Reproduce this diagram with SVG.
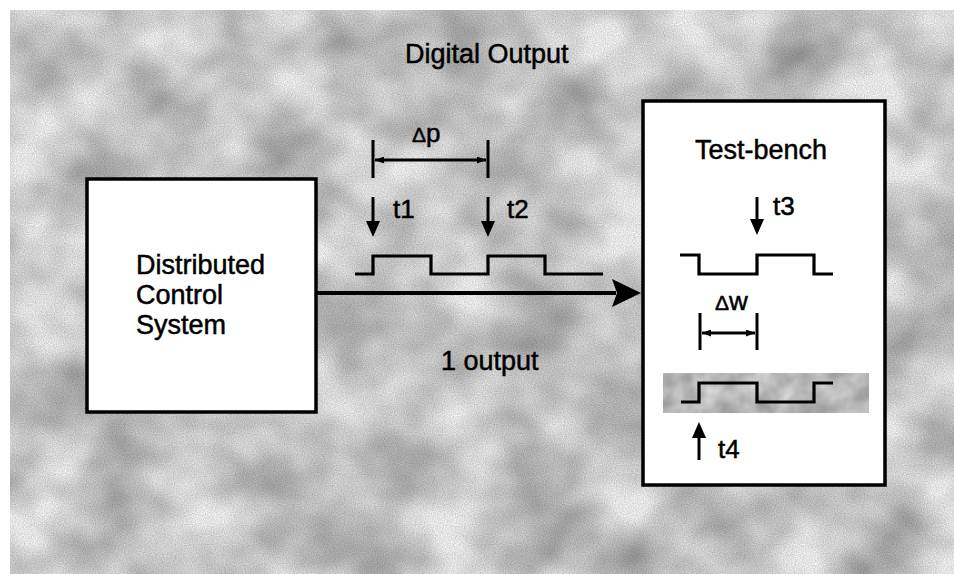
<svg xmlns="http://www.w3.org/2000/svg" width="954" height="574" viewBox="0 0 954 574">
  <defs>
    <style>
      .box { fill: #ffffff; stroke: #000000; stroke-width: 3.5; }
      .wave { fill: none; stroke: #000000; stroke-width: 3.2; stroke-linejoin: miter; }
      .arr { fill: none; stroke: #000000; stroke-width: 3; }
      .dim { fill: none; stroke: #000000; stroke-width: 3; }
      .lbl { font-family: "Liberation Sans", Arial, sans-serif; font-size: 27px; fill: #000000; stroke: #000000; stroke-width: 0.5; }
      .tl { font-family: "Liberation Sans", Arial, sans-serif; font-size: 26px; fill: #000000; stroke: #000000; stroke-width: 0.5; }
      .delta { font-size: 21px; }
    </style>
    <filter id="tex" x="0" y="0" width="100%" height="100%" color-interpolation-filters="sRGB">
      <feTurbulence type="fractalNoise" baseFrequency="0.012 0.014" numOctaves="3" seed="7" result="n"/>
      <feColorMatrix in="n" type="matrix" values="0.6 0 0 0 0.55  0.6 0 0 0 0.55  0.6 0 0 0 0.55  0 0 0 0 1" result="g1"/>
      <feTurbulence type="fractalNoise" baseFrequency="0.9" numOctaves="1" seed="4" result="f"/>
      <feColorMatrix in="f" type="matrix" values="0.35 0 0 0 0.72  0.35 0 0 0 0.72  0.35 0 0 0 0.72  0 0 0 0 1" result="g2"/>
      <feBlend in="g1" in2="g2" mode="multiply"/>
    </filter>
    <filter id="tex2" x="0" y="0" width="100%" height="100%" color-interpolation-filters="sRGB">
      <feTurbulence type="fractalNoise" baseFrequency="0.04" numOctaves="3" seed="2" result="n"/>
      <feColorMatrix in="n" type="matrix" values="0.4 0 0 0 0.52  0.4 0 0 0 0.52  0.4 0 0 0 0.52  0 0 0 0 1"/>
    </filter>
    <marker id="ah" viewBox="0 0 16 14" refX="4" refY="7" markerWidth="16" markerHeight="14" markerUnits="userSpaceOnUse" orient="auto">
      <path d="M0,0 L16,7 L0,14 z" fill="#000000"/>
    </marker>
    <marker id="dh" viewBox="0 0 9 7" refX="9" refY="3.5" markerWidth="9" markerHeight="7" markerUnits="userSpaceOnUse" orient="auto-start-reverse">
      <path d="M0,0 L9,3.5 L0,7 z" fill="#000000"/>
    </marker>
  </defs>

  <rect x="0" y="0" width="954" height="574" fill="#ffffff"/>
  <g id="background">
    <rect x="10" y="10" width="944" height="564" fill="#c0c0c0" filter="url(#tex)"/>
  </g>

  <g id="title">
    <text class="lbl" x="405" y="63">Digital Output</text>
  </g>

  <g id="dcs">
    <rect class="box" x="87" y="179" width="229" height="233"/>
    <text class="lbl" x="136" y="274">Distributed</text>
    <text class="lbl" x="136" y="304">Control</text>
    <text class="lbl" x="136" y="334">System</text>
  </g>

  <g id="testbench">
    <rect class="box" x="643" y="101" width="242" height="384"/>
    <text class="lbl" x="695" y="159">Test-bench</text>
  </g>

  <g id="output-signal">
    <path class="wave" d="M355,274 H373 V256 H431 V274 H488 V256 H545 V274 H603"/>
    <text class="tl" x="412" y="142"><tspan class="delta">Δ</tspan>p</text>
    <text class="tl" x="393" y="218">t1</text>
    <text class="tl" x="507" y="218">t2</text>
  </g>

  <g id="received-signal">
    <path class="wave" d="M680,255 H699 V274 H757 V255 H814 V274 H833"/>
    <text class="tl" x="773" y="215">t3</text>
    <text class="tl" x="715" y="310"><tspan class="delta">Δ</tspan>w</text>
  </g>

  <g id="response-signal">
    <rect x="663" y="373" width="206" height="40" fill="#b8b8b8" filter="url(#tex2)"/>
    <path class="wave" d="M681,402 H699 V383 H757 V402 H814 V383 H833"/>
    <text class="tl" x="718" y="458">t4</text>
  </g>

  <g id="connectors">
    <line x1="316" y1="293" x2="616" y2="293" stroke="#000000" stroke-width="4"/>
    <polygon points="641,293 612,279 617,293 612,307" fill="#000000"/>
    <line class="arr" x1="373" y1="197" x2="373" y2="225" marker-end="url(#ah)"/>
    <line class="arr" x1="488" y1="197" x2="488" y2="225" marker-end="url(#ah)"/>
    <line class="arr" x1="757" y1="197" x2="757" y2="223" marker-end="url(#ah)"/>
    <line class="arr" x1="699" y1="460" x2="699" y2="434" marker-end="url(#ah)"/>
    <line class="dim" x1="373" y1="140" x2="373" y2="178"/>
    <line class="dim" x1="488" y1="140" x2="488" y2="178"/>
    <line class="dim" x1="375" y1="160" x2="486" y2="160" marker-start="url(#dh)" marker-end="url(#dh)"/>
    <line class="dim" x1="700" y1="313" x2="700" y2="350"/>
    <line class="dim" x1="757" y1="313" x2="757" y2="350"/>
    <line class="dim" x1="702" y1="333" x2="755" y2="333" marker-start="url(#dh)" marker-end="url(#dh)"/>
  </g>

  <g id="output-label">
    <text class="lbl" x="441" y="370">1 output</text>
  </g>
</svg>
